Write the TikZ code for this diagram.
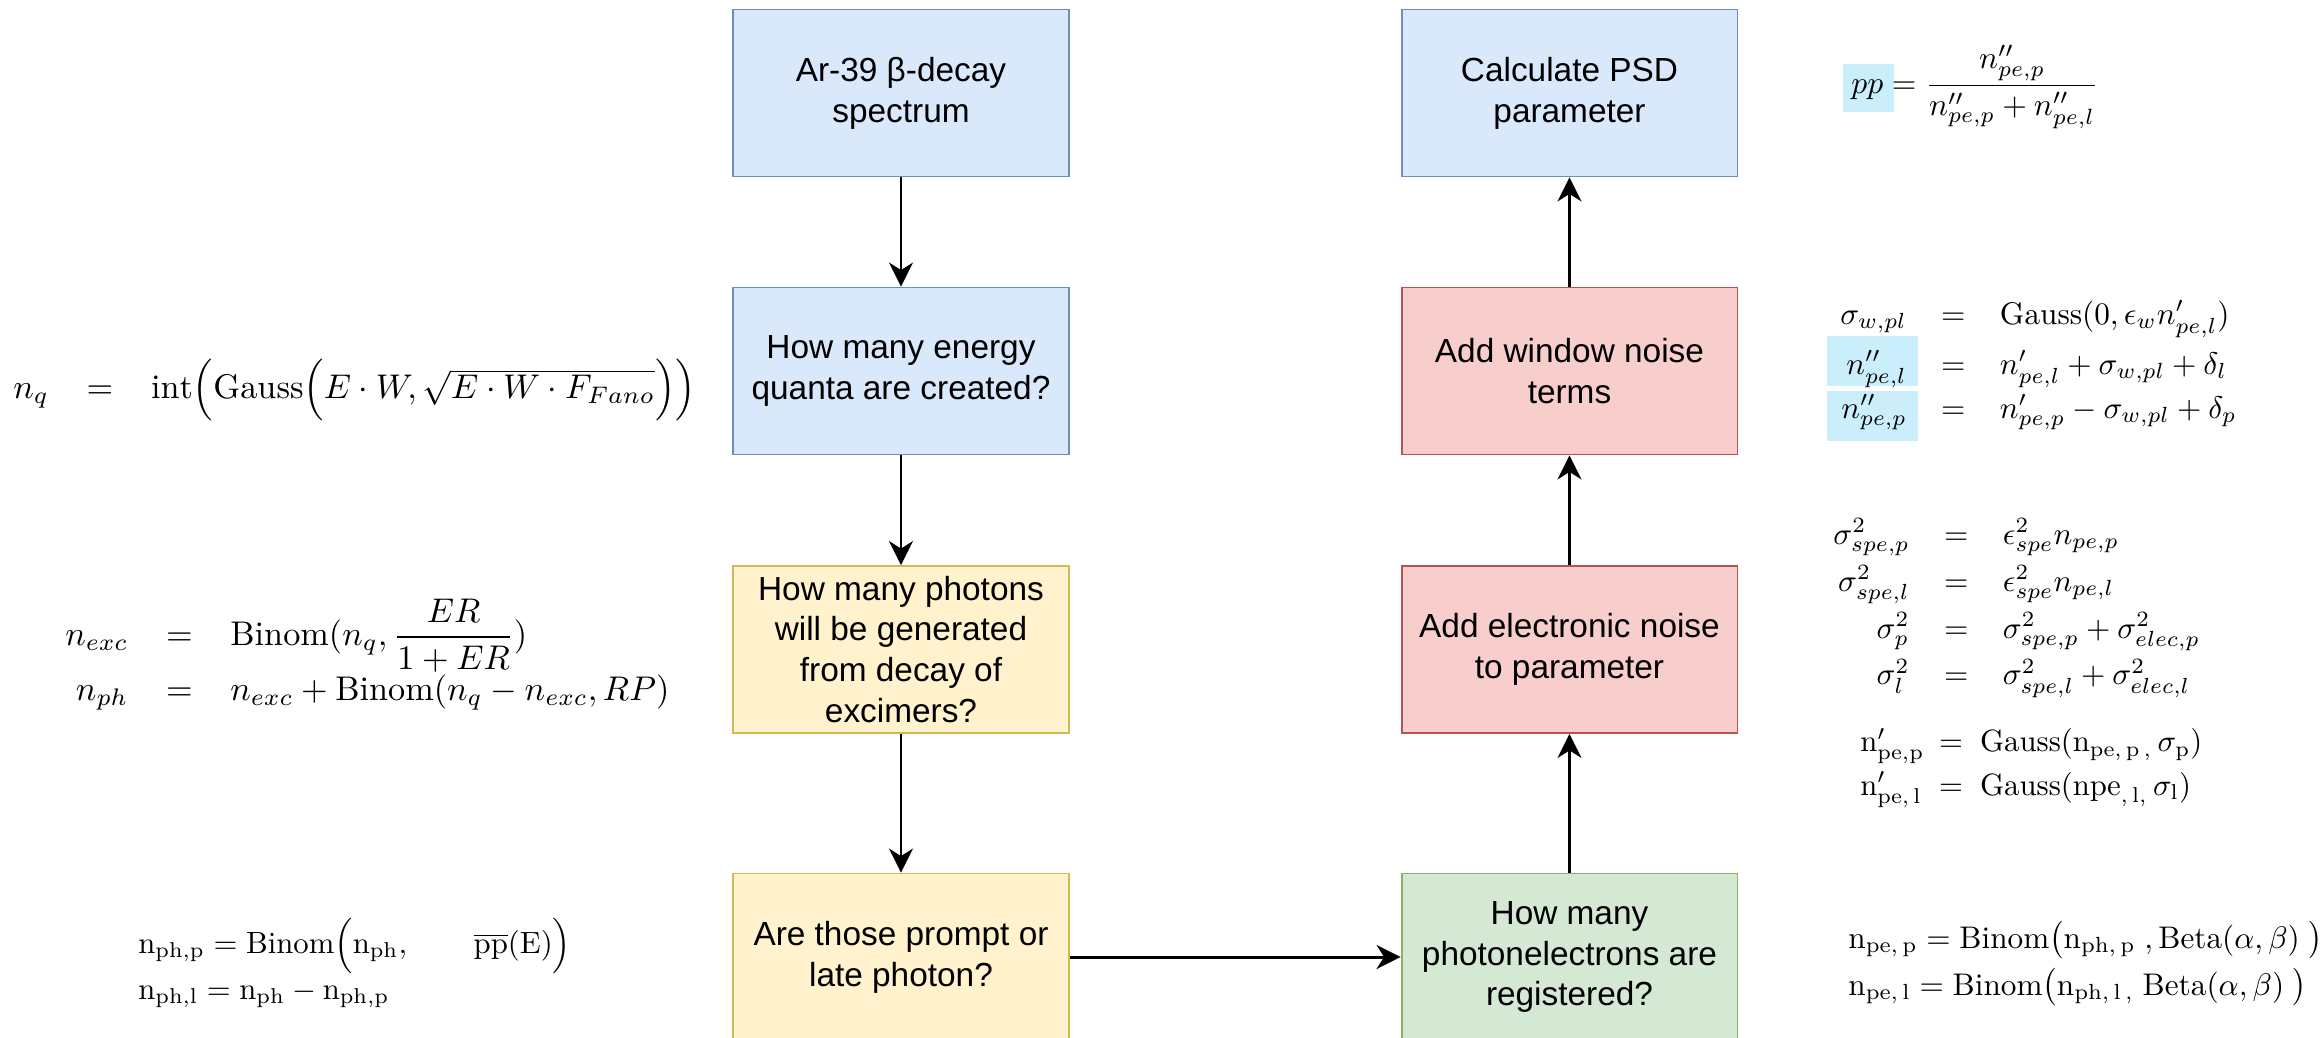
\documentclass[tikz,border=0pt]{standalone}
\usepackage{amsmath}
\usepackage{graphicx}
\usepackage{fontspec}
\newfontfamily\boxfont{Liberation Sans}
\usepackage{tikz}
\usetikzlibrary{arrows.meta, positioning}
\definecolor{BlueFill}{HTML}{DAE8FC}
\definecolor{BlueLine}{HTML}{6C8EBF}
\definecolor{YellowFill}{HTML}{FFF2CC}
\definecolor{YellowLine}{HTML}{D6B656}
\definecolor{RedFill}{HTML}{F8CECC}
\definecolor{RedLine}{HTML}{B85450}
\definecolor{GreenFill}{HTML}{D5E8D4}
\definecolor{GreenLine}{HTML}{82B366}
\definecolor{HighCyan}{HTML}{CAEEFB}
\tikzstyle{process} = [
  rectangle, draw=BlueLine, fill=BlueFill, line width=1.1pt,
  align=center, inner sep=0pt,
  minimum width=6.72cm, minimum height=3.34cm,
  font=\boxfont\fontsize{19}{23.3}\selectfont
]
\tikzstyle{arrow} = [-{Stealth[length=4.8mm, width=4.8mm, inset=1.5mm]}, line width=1.2pt]
\tikzstyle{formula} = [inner sep=0pt, anchor=west]
\begin{document}
\begin{tikzpicture}[x=0.02cm, y=-0.02cm]
  \useasboundingbox (0,0) rectangle (2323,1038);

  % Left column
  \node[process] (spectrum) at (901, 93) {Ar-39 β-decay\\spectrum};
  \node[process] (quanta) at (901, 371) {How many energy\\quanta are created?};
  \node[process, fill=YellowFill, draw=YellowLine] (photons) at (901, 649.5) {How many photons\\will be generated\\from decay of\\excimers?};
  \node[process, fill=YellowFill, draw=YellowLine] (promptlate) at (901, 957) {Are those prompt or\\late photon?};

  % Right column
  \node[process, fill=GreenFill, draw=GreenLine] (registered) at (1569.5, 957) {How many\\photonelectrons are\\registered?};
  \node[process, fill=RedFill, draw=RedLine] (elecnoise) at (1569.5, 649.5) {Add electronic noise\\to parameter};
  \node[process, fill=RedFill, draw=RedLine] (windownoise) at (1569.5, 371) {Add window noise\\terms};
  \node[process] (psd) at (1569.5, 93) {Calculate PSD\\parameter};

  % Highlights
  \fill[HighCyan] (1843,64) rectangle (1894,112);
  \fill[HighCyan] (1827,336) rectangle (1918,386);
  \fill[HighCyan] (1827,391) rectangle (1918,441);

  % Formulas left
  \node[formula] (eqquanta) at (13, 390) {\scalebox{1.95}{$\begin{array}{@{}r@{\hspace{11pt}}c@{\hspace{11pt}}l@{}}
    n_q & = & \mathrm{int}\Big(\mathrm{Gauss}\Big(E\cdot W,\sqrt{E\cdot W\cdot F_{Fano}}\Big)\Big)
  \end{array}$}};
  \node[formula] (eqphotons) at (65, 656) {\scalebox{1.95}{$\begin{array}{@{}r@{\hspace{11pt}}c@{\hspace{11pt}}l@{}}
    n_{exc} & = & \mathrm{Binom}(n_q,\dfrac{ER}{1+ER}) \\[1pt]
    n_{ph} & = & n_{exc}+\mathrm{Binom}(n_q-n_{exc},RP)
  \end{array}$}};
  \node[formula] (eqsplit) at (138, 964) {\scalebox{1.75}{$\begin{array}{@{}l@{}}
    \mathrm{n}_{\mathrm{ph,p}}=\mathrm{Binom}\Big(\mathrm{n}_{\mathrm{ph}},\qquad\overline{\mathrm{pp}}(\mathrm{E})\Big) \\
    \mathrm{n}_{\mathrm{ph,l}}=\mathrm{n}_{\mathrm{ph}}-\mathrm{n}_{\mathrm{ph,p}}
  \end{array}$}};

  % Formulas right
  \node[formula] (eqpsd) at (1851, 87) {\scalebox{1.8}{$pp=\dfrac{n''_{pe,p}}{n''_{pe,p}+n''_{pe,l}}$}};
  \node[formula] (eqwindow) at (1840, 364) {\scalebox{1.78}{$\begin{array}{@{}r@{\hspace{11pt}}c@{\hspace{11pt}}l@{}}
    \sigma_{w,pl} & = & \mathrm{Gauss}(0,\epsilon_w n'_{pe,l}) \\[4pt]
    n''_{pe,l} & = & n'_{pe,l}+\sigma_{w,pl}+\delta_l \\[2pt]
    n''_{pe,p} & = & n'_{pe,p}-\sigma_{w,pl}+\delta_p
  \end{array}$}};
  \node[formula] (eqelec) at (1833, 608) {\scalebox{1.78}{$\begin{array}{@{}r@{\hspace{11pt}}c@{\hspace{11pt}}l@{}}
    \sigma^2_{spe,p} & = & \epsilon^2_{spe}n_{pe,p} \\[3pt]
    \sigma^2_{spe,l} & = & \epsilon^2_{spe}n_{pe,l} \\[3pt]
    \sigma^2_p & = & \sigma^2_{spe,p}+\sigma^2_{elec,p} \\[3pt]
    \sigma^2_l & = & \sigma^2_{spe,l}+\sigma^2_{elec,l}
  \end{array}$}};
  \node[formula] (eqgauss) at (1860, 767) {\scalebox{1.75}{$\begin{array}{@{}l@{\;=\;\;}l@{}}
    \mathrm{n}'_{\mathrm{pe,p}} & \mathrm{Gauss}(\mathrm{n}_{\mathrm{pe,\,p\,,}}\,\sigma_{\mathrm{p}}) \\[2pt]
    \mathrm{n}'_{\mathrm{pe,\,l}}\; & \mathrm{Gauss}(\mathrm{npe}_{,\,\mathrm{l},}\,\sigma_{\mathrm{l}})
  \end{array}$}};
  \node[formula] (eqbinom) at (1848, 964) {\scalebox{1.78}{$\begin{array}{@{}l@{}}
    \mathrm{n}_{\mathrm{pe,\,p}}=\mathrm{Binom}\big(\mathrm{n}_{\mathrm{ph,\,p}}\;,\mathrm{Beta}(\alpha,\beta)\;\big) \\[3pt]
    \mathrm{n}_{\mathrm{pe,\,l}}=\mathrm{Binom}\big(\mathrm{n}_{\mathrm{ph,\,l\,,}}\;\mathrm{Beta}(\alpha,\beta)\;\big)
  \end{array}$}};

  % Arrows
  \draw[arrow] (spectrum) -- (quanta);
  \draw[arrow] (quanta) -- (photons);
  \draw[arrow] (photons) -- (promptlate);
  \draw[arrow, line width=1.7pt] (promptlate) -- (registered);
  \draw[arrow] (registered) -- (elecnoise);
  \draw[arrow] (elecnoise) -- (windownoise);
  \draw[arrow] (windownoise) -- (psd);

\end{tikzpicture}
\end{document}
